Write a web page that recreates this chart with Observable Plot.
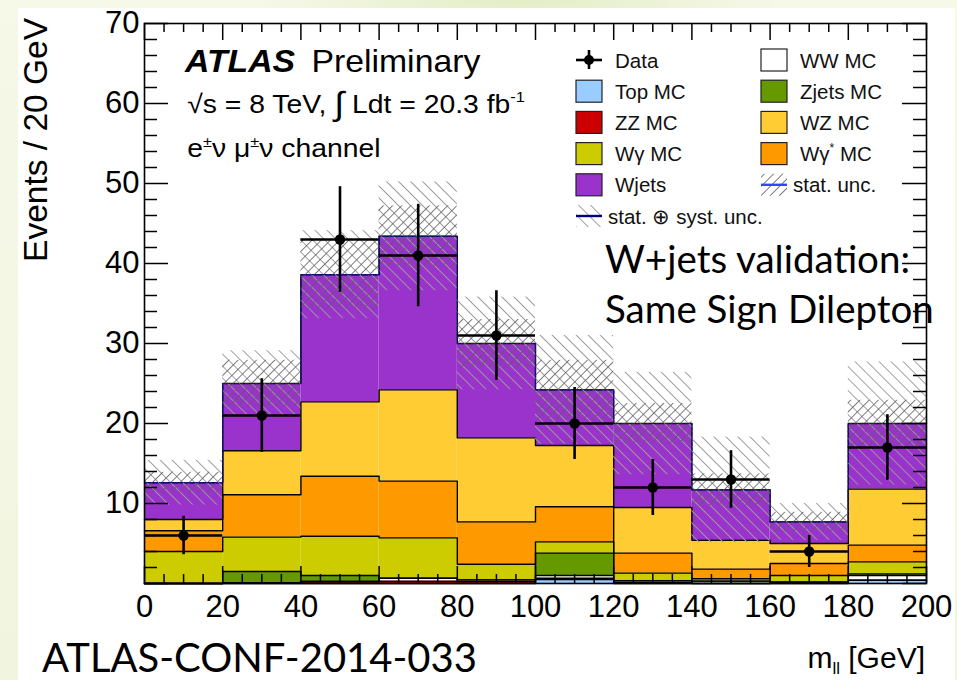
<!DOCTYPE html>
<html>
<head>
<meta charset="utf-8">
<script src="https://cdn.jsdelivr.net/npm/d3@7"></script>
<script src="https://cdn.jsdelivr.net/npm/@observablehq/plot@0.6"></script>
<style>
  html, body { margin: 0; padding: 0; }
  body {
    width: 957px; height: 680px; position: relative; overflow: hidden;
    background: radial-gradient(ellipse 260px 40px at 520px 0px, #e3edc4 0%, rgba(227,237,196,0) 100%),
                linear-gradient(180deg, #f6f8e8 0%, #f1f5df 100%);
  }
  #sheet { position: absolute; left: 18px; top: 8px; width: 937px; height: 672px; background: #ffffff; }
  #chart, #notes { position: absolute; left: 0; top: 0; }
</style>
</head>
<body>
<div id="sheet"></div>
<svg width="0" height="0" style="position:absolute">
  <defs>
    <!-- "///" hatching for the statistical band -->
    <pattern id="hatchStat" patternUnits="userSpaceOnUse" width="6.5" height="6.5" patternTransform="rotate(45)">
      <line x1="0" y1="0" x2="0" y2="6.5" stroke="#5e5e5e" stroke-width="1.6"></line>
    </pattern>
    <!-- "\\\" hatching for the stat (+) syst band -->
    <pattern id="hatchTot" patternUnits="userSpaceOnUse" width="8.5" height="8.5" patternTransform="rotate(-45)">
      <line x1="0" y1="0" x2="0" y2="8.5" stroke="#9a9a9a" stroke-width="1.9"></line>
    </pattern>
  </defs>
</svg>
<div id="chart"></div>
<script>
// m_ll bins (lower edges, GeV)
const binLo = [0, 20, 40, 60, 80, 100, 120, 140, 160, 180];
const binWidth = 20;

// Stacked backgrounds, bottom to top (events / 20 GeV)
const processes = ["Top MC", "ZZ MC", "WW MC", "Zjets MC", "Wγ MC", "Wγ* MC", "WZ MC", "Wjets"];
const processColors = ["#99ccff", "#cc0000", "#ffffff", "#669900", "#cccc00", "#ff9900", "#ffcc33", "#9933cc"];
const topMC   = [0,   0,   0,    0,    0,    0.5,  0,    0,   0,    0.4];
const zzMC    = [0,   0.1, 0.25, 0.3,  0.25, 0.15, 0.1,  0,   0.15, 0];
const wwMC    = [0,   0,   0,    0.35, 0.2,  0.35, 0,    0.3, 0,    0.6];
const zjetsMC = [0,   1.4, 0.75, 0,    0,    2.8,  0.25, 0,   0,    0.2];
const wgMC    = [4.0, 4.3, 4.9,  5.05, 1.95, 1.4,  0.95, 0.3, 0.85, 1.5];
const wgsMC   = [2.6, 5.3, 7.5,  7.1,  5.3,  4.4,  2.5,  1.2, 1.5,  2.1];
const wzMC    = [1.4, 5.5, 9.3,  11.4, 10.5, 7.65, 5.7,  3.6, 2.5,  7.0];
const wjetsMC = [4.6, 8.4, 15.9, 19.2, 11.8, 6.95, 10.5, 6.3, 2.7,  8.2];

// Uncertainty on the MC total (half widths)
const statUnc = [1.3, 2.9, 4.3, 3.8, 3.0, 3.7, 2.5, 2.0, 1.2, 2.9];
const totUnc  = [2.8, 4.1, 5.5, 6.8, 5.8, 6.8, 6.4, 6.6, 2.3, 7.7];

// Observed data with errors
const dataCounts = [6, 21, 43, 41, 31, 20, 12, 13, 4, 17];
const dataErr    = [2.4, 4.6, 6.6, 6.4, 5.6, 4.5, 3.5, 3.6, 2.0, 4.1];

// Axis ticks
const xMajor = [0, 20, 40, 60, 80, 100, 120, 140, 160, 180, 200];
const yMajor = [0, 10, 20, 30, 40, 50, 60, 70];
const yLabels = [10, 20, 30, 40, 50, 60, 70];
const xMinor = d3.range(0, 201, 5).filter(v => v % 20 !== 0);
const yMinor = d3.range(0, 71, 2).filter(v => v % 10 !== 0);

// ---- build stack rectangles and the step outline of every cumulative level
const series = [topMC, zzMC, wwMC, zjetsMC, wgMC, wgsMC, wzMC, wjetsMC];
const stackRows = [];
const outlineRows = [];
const running = binLo.map(() => 0);
series.forEach((vals, k) => {
  binLo.forEach((lo, i) => {
    const lower = running[i];
    running[i] = lower + vals[i];
    stackRows.push({proc: processes[k], x1: lo, x2: lo + binWidth, y1: lower, y2: running[i]});
  });
  binLo.forEach((lo, i) => outlineRows.push({proc: processes[k], x: lo, y: running[i]}));
  outlineRows.push({proc: processes[k], x: binLo[binLo.length - 1] + binWidth, y: running[running.length - 1]});
});
const mcTotal = running.slice();
const totalLine = binLo.map((lo, i) => ({x: lo, y: mcTotal[i]}))
  .concat([{x: binLo[binLo.length - 1] + binWidth, y: mcTotal[mcTotal.length - 1]}]);
const bandRows = binLo.map((lo, i) => ({
  x1: lo, x2: lo + binWidth,
  s1: mcTotal[i] - statUnc[i], s2: mcTotal[i] + statUnc[i],
  t1: mcTotal[i] - totUnc[i], t2: mcTotal[i] + totUnc[i]
}));
const dataRows = binLo.map((lo, i) => ({
  x1: lo, x2: lo + binWidth, xc: lo + binWidth / 2,
  n: dataCounts[i], lo: dataCounts[i] - dataErr[i], hi: dataCounts[i] + dataErr[i]
}));

const tick = {stroke: "black", strokeWidth: 1.5};

const chart = Plot.plot({
  width: 957,
  height: 680,
  marginLeft: 144,
  marginRight: 31,
  marginTop: 23,
  marginBottom: 97,
  style: {background: "transparent", fontFamily: "'Liberation Sans', Arial, sans-serif", fontSize: "31px", color: "black", overflow: "visible"},
  x: {domain: [0, 200], ticks: xMajor, tickSize: 0, tickPadding: 11, tickFormat: d => String(d), label: null},
  y: {domain: [0, 70], ticks: yLabels, tickSize: 0, tickPadding: 5, tickFormat: d => String(d), label: null},
  color: {domain: processes, range: processColors},
  marks: [
    Plot.rect(stackRows, {x1: "x1", x2: "x2", y1: "y1", y2: "y2", fill: "proc"}),
    Plot.line(outlineRows, {x: "x", y: "y", z: "proc", curve: "step-after", stroke: "black", strokeWidth: 1.4}),
    Plot.rect(bandRows, {x1: "x1", x2: "x2", y1: "t1", y2: "t2", fill: "url(#hatchTot)"}),
    Plot.rect(bandRows, {x1: "x1", x2: "x2", y1: "s1", y2: "s2", fill: "url(#hatchStat)"}),
    Plot.line(totalLine, {x: "x", y: "y", curve: "step-after", stroke: "#16168a", strokeWidth: 1.2, strokeDasharray: "3,2"}),
    // data points
    Plot.ruleY(dataRows, {y: "n", x1: "x1", x2: "x2", stroke: "black", strokeWidth: 2.6}),
    Plot.ruleX(dataRows, {x: "xc", y1: "lo", y2: "hi", stroke: "black", strokeWidth: 2.6}),
    Plot.dot(dataRows, {x: "xc", y: "n", r: 5.2, fill: "black", stroke: "none"}),
    // inward ticks on all four sides
    Plot.ruleX(xMajor, {x: d => d, y1: 0, y2: 0, insetBottom: 17, ...tick}),
    Plot.ruleX(xMinor, {x: d => d, y1: 0, y2: 0, insetBottom: 9, ...tick}),
    Plot.ruleX(xMajor, {x: d => d, y1: 70, y2: 70, insetTop: 17, ...tick}),
    Plot.ruleX(xMinor, {x: d => d, y1: 70, y2: 70, insetTop: 9, ...tick}),
    Plot.ruleY(yMajor, {y: d => d, x1: 0, x2: 0, insetLeft: 24, ...tick}),
    Plot.ruleY(yMinor, {y: d => d, x1: 0, x2: 0, insetLeft: 13, ...tick}),
    Plot.ruleY(yMajor, {y: d => d, x1: 200, x2: 200, insetRight: 24, ...tick}),
    Plot.ruleY(yMinor, {y: d => d, x1: 200, x2: 200, insetRight: 13, ...tick}),
    Plot.frame({stroke: "black", strokeWidth: 1.6})
  ]
});
document.getElementById("chart").appendChild(chart);

// ---- titles, ATLAS label, legend and slide notes
const notes = d3.select("body").append("svg")
  .attr("id", "notes").attr("width", 957).attr("height", 680)
  .style("font-family", "'Liberation Sans', Arial, sans-serif");

// axis titles
notes.append("text")
  .attr("transform", "translate(47,18) rotate(-90)")
  .attr("text-anchor", "end").attr("font-size", 33.5)
  .text("Events / 20 GeV");
const xTitle = notes.append("text").attr("x", 925).attr("y", 668).attr("text-anchor", "end").attr("font-size", 30);
xTitle.append("tspan").text("m");
xTitle.append("tspan").attr("font-size", 17).attr("dy", 6).text("ll");
xTitle.append("tspan").attr("dy", -6).text(" [GeV]");

// ATLAS label, slightly widened like the rest of the figure lettering
const label = notes.append("g").attr("transform", "translate(185,0) scale(1.09,1)");
const atlas = label.append("text").attr("x", 0).attr("y", 72).attr("font-size", 31);
atlas.append("tspan").attr("font-weight", "bold").attr("font-style", "italic").text("ATLAS");
atlas.append("tspan").attr("x", 116).text("Preliminary");
const lumi = label.append("text").attr("x", 2).attr("y", 113).attr("font-size", 26);
lumi.append("tspan").text("√s = 8 TeV, ");
lumi.append("tspan").attr("font-size", 33).attr("dy", 2).text("∫");
lumi.append("tspan").attr("dy", -2).text(" Ldt = 20.3 fb");
lumi.append("tspan").attr("font-size", 15).attr("dy", -11).text("-1");
const chan = label.append("text").attr("x", 2).attr("y", 157).attr("font-size", 26);
chan.append("tspan").text("e");
chan.append("tspan").attr("font-size", 15).attr("dy", -10).text("±");
chan.append("tspan").attr("dy", 10).text("ν μ");
chan.append("tspan").attr("font-size", 15).attr("dy", -10).text("±");
chan.append("tspan").attr("dy", 10).text("ν channel");

// legend
const legendEntries = [
  {label: "Data", kind: "data"},
  {label: "WW MC", kind: "box", fill: processColors[2]},
  {label: "Top MC", kind: "box", fill: processColors[0]},
  {label: "Zjets MC", kind: "box", fill: processColors[3]},
  {label: "ZZ MC", kind: "box", fill: processColors[1]},
  {label: "WZ MC", kind: "box", fill: processColors[6]},
  {label: "Wγ MC", kind: "box", fill: processColors[4]},
  {label: "Wγ* MC", kind: "box", fill: processColors[5]},
  {label: "Wjets", kind: "box", fill: processColors[7]},
  {label: "stat. unc.", kind: "stat"},
  {label: "stat. ⊕ syst. unc.", kind: "tot"}
];
const colX = [576, 761];
legendEntries.forEach((e, i) => {
  const cx = colX[i % 2];
  const cy = 60 + Math.floor(i / 2) * 31.2;
  const g = notes.append("g");
  let textX = cx + 39;
  if (e.kind === "data") {
    g.append("line").attr("x1", cx).attr("x2", cx + 26).attr("y1", cy).attr("y2", cy).attr("stroke", "black").attr("stroke-width", 2.6);
    g.append("line").attr("x1", cx + 13).attr("x2", cx + 13).attr("y1", cy - 10).attr("y2", cy + 9).attr("stroke", "black").attr("stroke-width", 2.6);
    g.append("circle").attr("cx", cx + 13).attr("cy", cy).attr("r", 5).attr("fill", "black");
  } else if (e.kind === "box") {
    g.append("rect").attr("x", cx).attr("y", cy - 11).attr("width", 26).attr("height", 22)
      .attr("fill", e.fill).attr("stroke", "#222").attr("stroke-width", 1.2);
  } else {
    g.append("rect").attr("x", cx).attr("y", cy - 11).attr("width", 26).attr("height", 22)
      .attr("fill", e.kind === "stat" ? "url(#hatchStat)" : "url(#hatchTot)");
    g.append("line").attr("x1", cx).attr("x2", cx + 26).attr("y1", cy).attr("y2", cy)
      .attr("stroke", e.kind === "stat" ? "#3344ff" : "#000080").attr("stroke-width", 2.4);
    textX = cx + 32;
  }
  const t = g.append("text").attr("x", textX).attr("y", cy + 7.5).attr("font-size", 20.5).attr("fill", "#111");
  if (e.label === "Wγ* MC") {
    t.append("tspan").text("Wγ");
    t.append("tspan").attr("font-size", 12).attr("dy", -9).text("*");
    t.append("tspan").attr("dy", 9).text(" MC");
  } else {
    t.text(e.label);
  }
});

// slide notes
const slide = notes.append("g").style("font-family", "Lato, 'Open Sans', sans-serif").attr("fill", "#000");
slide.append("text").attr("x", 605).attr("y", 273).attr("font-size", 38.5).text("W+jets validation:");
slide.append("text").attr("x", 605).attr("y", 323).attr("font-size", 38.5).text("Same Sign Dilepton");
slide.append("text").attr("x", 42).attr("y", 672).attr("font-size", 40).text("ATLAS-CONF-2014-033");
</script>
</body>
</html>
